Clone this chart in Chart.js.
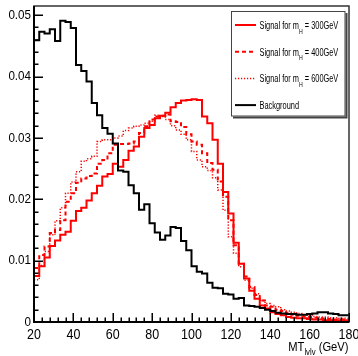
<!DOCTYPE html>
<html>
<head>
<meta charset="utf-8">
<script src="https://cdn.jsdelivr.net/npm/chart.js@4.4.0/dist/chart.umd.min.js"></script>
<style>
  html, body { margin: 0; padding: 0; background: #fff; }
</style>
</head>
<body>
<canvas id="myChart" width="358" height="356"></canvas>
<script>
// MT(lvlv) shapes, 60 bins from 20 to 180 GeV, each normalised to unit area
var xMin = 20, xMax = 180;
var xMinorStep = 4, yMinorStep = 0.002;
var xTicks = [20, 40, 60, 80, 100, 120, 140, 160, 180];
var yTicks = [0, 0.01, 0.02, 0.03, 0.04, 0.05];
var yTickLabels = ["0", "0.01", "0.02", "0.03", "0.04", "0.05"];
var yMax = 0.0515;

var sig300 = [0.0075, 0.0091, 0.0105, 0.0124, 0.0133, 0.0142, 0.0147, 0.0165, 0.0181, 0.0186,
              0.0198, 0.0210, 0.0222, 0.0237, 0.0241, 0.0258, 0.0253, 0.0264, 0.0279, 0.0286,
              0.0302, 0.0316, 0.0321, 0.0332, 0.0336, 0.0341, 0.0350, 0.0357, 0.0361, 0.0362,
              0.0363, 0.0362, 0.0335, 0.0324, 0.0297, 0.0258, 0.0212, 0.0177, 0.0129, 0.0095,
              0.0071, 0.0051, 0.0038, 0.0027, 0.0022, 0.0016, 0.0013, 0.0011, 0.0008, 0.0007,
              0.0006, 0.0006, 0.0005, 0.0004, 0.0004, 0.0003, 0.0003, 0.0003, 0.0003, 0.0003];

var sig400 = [0.0088, 0.0109, 0.0123, 0.0145, 0.0150, 0.0166, 0.0196, 0.0210, 0.0227, 0.0234,
              0.0238, 0.0242, 0.0258, 0.0264, 0.0275, 0.0289, 0.0290, 0.0290, 0.0291, 0.0294,
              0.0308, 0.0319, 0.0330, 0.0335, 0.0336, 0.0338, 0.0327, 0.0326, 0.0318, 0.0306,
              0.0294, 0.0289, 0.0275, 0.0259, 0.0248, 0.0229, 0.0204, 0.0166, 0.0125, 0.0095,
              0.0074, 0.0057, 0.0044, 0.0035, 0.0027, 0.0025, 0.0020, 0.0018, 0.0015, 0.0012,
              0.0010, 0.0009, 0.0008, 0.0007, 0.0006, 0.0005, 0.0005, 0.0004, 0.0004, 0.0004];

var sig600 = [0.0069, 0.0092, 0.0115, 0.0142, 0.0165, 0.0186, 0.0210, 0.0228, 0.0245, 0.0262,
              0.0266, 0.0270, 0.0294, 0.0297, 0.0297, 0.0300, 0.0303, 0.0312, 0.0316, 0.0319,
              0.0321, 0.0324, 0.0327, 0.0337, 0.0335, 0.0330, 0.0320, 0.0313, 0.0306, 0.0297,
              0.0278, 0.0264, 0.0253, 0.0247, 0.0235, 0.0215, 0.0182, 0.0139, 0.0112, 0.0090,
              0.0068, 0.0055, 0.0046, 0.0035, 0.0030, 0.0027, 0.0025, 0.0020, 0.0018, 0.0016,
              0.0014, 0.0012, 0.0011, 0.0009, 0.0008, 0.0008, 0.0007, 0.0007, 0.0006, 0.0006];

var background = [0.0459, 0.0473, 0.0470, 0.0477, 0.0458, 0.0491, 0.0489, 0.0479, 0.0419, 0.0409,
                  0.0392, 0.0357, 0.0337, 0.0316, 0.0307, 0.0291, 0.0247, 0.0245, 0.0223, 0.0210,
                  0.0183, 0.0192, 0.0161, 0.0146, 0.0134, 0.0141, 0.0155, 0.0153, 0.0132, 0.0117,
                  0.0091, 0.0082, 0.0079, 0.0064, 0.0056, 0.0055, 0.0046, 0.0045, 0.0038, 0.0039,
                  0.0027, 0.0026, 0.0025, 0.0023, 0.0020, 0.0018, 0.0015, 0.0014, 0.0013, 0.0013,
                  0.0012, 0.0012, 0.0013, 0.0014, 0.0016, 0.0016, 0.0014, 0.0013, 0.0011, 0.0011];

var signalMasses = ["300", "400", "600"];

// left bin edges plus a closing point so a stepped line draws the histogram outline
function histPoints(vals) {
    var w = (xMax - xMin) / vals.length;
    var pts = vals.map(function(v, i) { return {x: xMin + i * w, y: v}; });
    pts.push({x: xMax, y: vals[vals.length - 1]});
    return pts;
}

// text squeezed horizontally, the ROOT fonts run narrow
function squeezed(ctx, str, x, y, size, align, sx) {
    ctx.save();
    ctx.font = size + 'px "Liberation Sans", Arial, sans-serif';
    ctx.translate(x, y);
    ctx.scale(sx, 1);
    ctx.textAlign = align;
    ctx.fillText(str, 0, 0);
    ctx.restore();
}

function textWidth(ctx, str, size, sx) {
    ctx.font = size + 'px "Liberation Sans", Arial, sans-serif';
    return ctx.measureText(str).width * sx;
}

var rootFrame = {
    id: 'rootFrame',
    afterDraw: function(chart) {
        var ctx = chart.ctx;
        var a = chart.chartArea;
        var xs = chart.scales.x, ys = chart.scales.y;
        var sx = 0.86;

        ctx.save();
        // frame
        ctx.strokeStyle = '#333';
        ctx.lineWidth = 1.5;
        ctx.strokeRect(a.left, a.top, a.right - a.left, a.bottom - a.top);
        ctx.strokeStyle = '#000';
        ctx.lineWidth = 2;
        ctx.beginPath();
        ctx.moveTo(a.left, a.top);
        ctx.lineTo(a.left, a.bottom);
        ctx.lineTo(a.right, a.bottom);
        ctx.stroke();

        // ticks point into the frame
        ctx.lineWidth = 1.5;
        ctx.beginPath();
        for (var v = xMin; v <= xMax + 1e-6; v += xMinorStep) {
            var px = Math.round(xs.getPixelForValue(v)) + 0.25;
            var major = xTicks.some(function(t) { return Math.abs(t - v) < 1e-6; });
            ctx.moveTo(px, a.bottom);
            ctx.lineTo(px, a.bottom - (major ? 9 : 4.5));
        }
        for (var w = 0; w <= yMax + 1e-9; w += yMinorStep) {
            var py = Math.round(ys.getPixelForValue(w)) + 0.25;
            var majorY = yTicks.some(function(t) { return Math.abs(t - w) < 1e-9; });
            ctx.moveTo(a.left, py);
            ctx.lineTo(a.left + (majorY ? 9 : 4.5), py);
        }
        ctx.stroke();

        // tick labels
        ctx.fillStyle = '#000';
        ctx.textBaseline = 'alphabetic';
        xTicks.forEach(function(t) {
            squeezed(ctx, String(t), xs.getPixelForValue(t), 338.5, 14.5, 'center', sx);
        });
        ctx.textBaseline = 'middle';
        yTicks.forEach(function(t, i) {
            squeezed(ctx, yTickLabels[i], 31, ys.getPixelForValue(t), 13.5, 'right', sx);
        });

        // axis title MT_lvlv (GeV), right aligned
        ctx.textBaseline = 'alphabetic';
        var w1 = textWidth(ctx, 'MT', 13, sx);
        var w2 = textWidth(ctx, 'lvlv', 9, sx);
        var w3 = textWidth(ctx, ' (GeV)', 13, sx);
        var x0 = 348.5 - (w1 + w2 + w3);
        squeezed(ctx, 'MT', x0, 350.5, 13, 'left', sx);
        squeezed(ctx, 'lvlv', x0 + w1, 354.5, 9, 'left', sx);
        squeezed(ctx, ' (GeV)', x0 + w1 + w2, 350.5, 13, 'left', sx);

        // legend box with shadow
        var lx = 231, ly = 11, lw = 114.5, lh = 105.5;
        ctx.fillStyle = '#444';
        ctx.fillRect(lx + 2, ly + 2, lw, lh);
        ctx.fillStyle = '#fff';
        ctx.fillRect(lx, ly, lw, lh);
        ctx.strokeStyle = '#444';
        ctx.lineWidth = 1;
        ctx.strokeRect(lx + 0.5, ly + 0.5, lw - 1, lh - 1);

        var sets = chart.data.datasets;
        var rows = [sets[1], sets[2], sets[3], sets[0]];
        rows.forEach(function(ds, i) {
            var yy = 25 + i * 26.7;
            ctx.save();
            ctx.strokeStyle = ds.borderColor;
            ctx.lineWidth = ds.borderWidth;
            ctx.setLineDash(ds.borderDash || []);
            ctx.beginPath();
            ctx.moveTo(235, yy);
            ctx.lineTo(256, yy);
            ctx.stroke();
            ctx.restore();

            ctx.fillStyle = '#000';
            ctx.textBaseline = 'alphabetic';
            var tx = 259.5, base = yy + 4, ls = 0.74;
            if (i < 3) {
                var s1 = 'Signal for m';
                squeezed(ctx, s1, tx, base, 10, 'left', ls);
                tx += textWidth(ctx, s1, 10, ls);
                squeezed(ctx, 'H', tx, base + 4.5, 7, 'left', ls);
                tx += textWidth(ctx, 'H', 7, ls);
                squeezed(ctx, ' = ' + signalMasses[i] + 'GeV', tx, base, 10, 'left', ls);
            } else {
                squeezed(ctx, ds.label, tx, base, 10, 'left', ls);
            }
        });
        ctx.restore();
    }
};

window.onload = function() {
    var ctx = document.getElementById('myChart');
    var myChart = new Chart(ctx, {
        type: 'line',
        data: {
            datasets: [{
                label: 'Background',
                data: histPoints(background),
                borderColor: '#000000',
                borderWidth: 2
            }, {
                label: 'Signal for mH = 300GeV',
                data: histPoints(sig300),
                borderColor: '#ff0000',
                borderWidth: 2
            }, {
                label: 'Signal for mH = 400GeV',
                data: histPoints(sig400),
                borderColor: '#ff0000',
                borderWidth: 2,
                borderDash: [4, 3]
            }, {
                label: 'Signal for mH = 600GeV',
                data: histPoints(sig600),
                borderColor: '#ff0000',
                borderWidth: 1.5,
                borderDash: [1.2, 1.8]
            }]
        },
        options: {
            responsive: false,
            animation: false,
            devicePixelRatio: 1,
            layout: { padding: { left: 34, right: 9, top: 6, bottom: 34 } },
            elements: {
                point: { radius: 0 },
                line: { stepped: true, tension: 0, fill: false, borderCapStyle: 'butt' }
            },
            plugins: {
                legend: { display: false },
                tooltip: { enabled: false }
            },
            scales: {
                x: { type: 'linear', min: xMin, max: xMax, display: false },
                y: { type: 'linear', min: 0, max: yMax, display: false }
            }
        },
        plugins: [rootFrame]
    });
};
</script>
</body>
</html>
